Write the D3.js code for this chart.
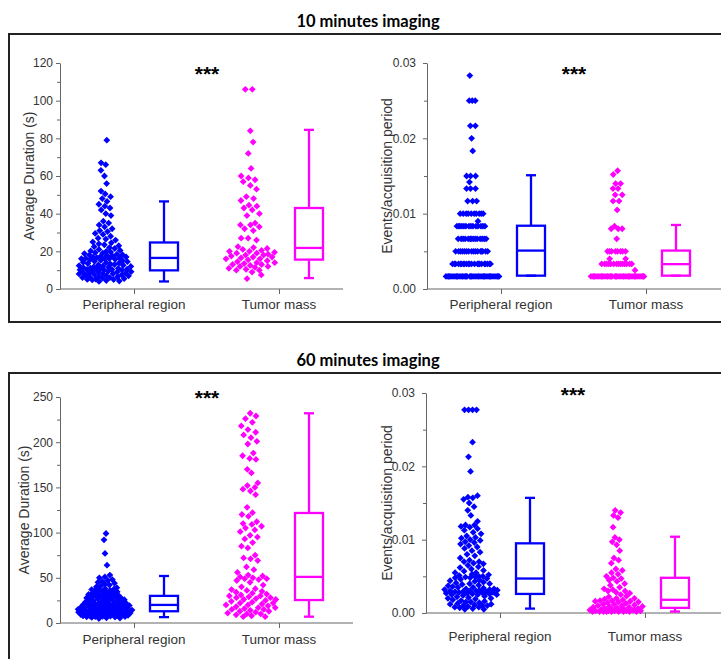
<!DOCTYPE html>
<html>
<head>
<meta charset="utf-8">
<script src="https://cdn.jsdelivr.net/npm/d3@7"></script>
<style>
  body { margin: 0; background: #fff; }
  text { font-family: "Liberation Sans", Arial, sans-serif; }
</style>
</head>
<body>
<div id="content"></div>
<script>
// --- data ---
const categories = ['Peripheral region', 'Tumor mass'];
const sectionTitles = ['10 minutes imaging', '60 minutes imaging'];

const durTicks10 = [0, 20, 40, 60, 80, 100, 120];
const durMinor10 = [10, 30, 50, 70, 90, 110];
const durTicks60 = [0, 50, 100, 150, 200, 250];
const durMinor60 = [25, 75, 125, 175, 225];
const evtTicks = [0, 0.01, 0.02, 0.03];
const evtMinor = [0.005, 0.015, 0.025];

// 10 min, average duration (s)
const dur10Peripheral = [79, 67, 66, 63, 60, 56, 52, 50.5, 49, 48, 46.5, 45, 44, 43, 42, 40, 39, 36, 35, 34, 33, 32, 31, 30.5, 29.5, 29, 28, 27, 26.5, 26,
  25, 24.5, 24, 23.5, 23, 22.5, 22, 21.5, 21, 20.5, 20.2, 20, 19.6, 19.3, 19, 18.8, 18.5, 18.2, 18, 17.8, 17.5, 17.2, 17, 16.9, 16.7, 16.5, 16.3, 16.2, 16.1, 16,
  15.8, 15.5, 15.2, 15, 14.7, 14.5, 14.2, 14, 13.7, 13.5, 13.2, 13, 12.8, 12.6, 12.4, 12.2, 12, 11.8, 11.5, 11.3, 11.1, 11, 10.8, 10.6, 10.5, 10.4, 10.3, 10.2, 10.1, 10,
  9.7, 9.4, 9.2, 9, 8.8, 8.5, 8.3, 8.1, 8, 7.8, 7.5, 7.3, 7.1, 7, 6.8, 6.5, 6.3, 6.1, 6, 5.8, 5.5, 5.3, 5.1, 5, 4.8, 4.5, 4.2, 4, 9.1, 8.2];
const dur10Tumor = [106, 106, 84, 78, 72, 64, 60, 59, 58, 57, 55, 53, 49, 48, 47, 44.5, 44,
  43, 42, 40, 39, 35, 34, 34, 33, 32, 31, 27, 27, 26, 22.5, 22, 21.5, 21,
  20.5, 20, 20, 19.5, 19, 19, 18.5, 18, 18, 17.5, 17, 17, 16.5, 16, 16, 15.5, 15,
  14.5, 14, 14, 13.5, 13, 13, 12.5, 12, 12, 11.5, 11, 10.5, 10, 10, 9, 7.5, 5.5];

// 10 min, events / acquisition period  ([value, count] per level)
const evt10PeripheralCounts = [[0.001667, 35], [0.003333, 22], [0.005, 16], [0.006667, 14], [0.008333, 14], [0.009, 1], [0.01, 10],
  [0.011667, 3], [0.013333, 3], [0.0142, 1], [0.015, 3], [0.018333, 1], [0.02, 1], [0.021667, 2], [0.025, 3], [0.028333, 1]];
const evt10TumorCounts = [[0.001667, 35], [0.0025, 1], [0.003333, 14], [0.004, 2], [0.005, 8], [0.006667, 1], [0.008, 3], [0.008333, 1],
  [0.0105, 1], [0.011667, 2], [0.0125, 2], [0.013333, 2], [0.014, 2], [0.0152, 1], [0.0157, 1]];

// 60 min, average duration (s)
const dur60Peripheral = [99, 92, 77, 64, 53, 51, 50, 48, 47, 46, 45, 44, 43, 42, 41, 40, 39, 38, 37.5, 37, 36.5, 36, 35.5, 35, 34.5, 34, 33.5, 33, 32.5, 32, 31.5, 31, 30.8, 30.5, 30.2,
  30, 29.5, 29, 28.5, 28, 27.7, 27.3, 27, 26.5, 26, 25.7, 25.3, 25, 24.5, 24, 23.7, 23.3, 23, 22.5, 22, 21.7, 21.3, 21, 20.8, 20.5, 20.3, 20, 19.8, 19.5, 19.3, 19.1, 19, 19.2, 19.4, 19.6,
  18.7, 18.4, 18, 17.7, 17.4, 17, 16.7, 16.4, 16, 15.8, 15.5, 15.2, 15, 14.8, 14.5, 14.2, 14, 13.8, 13.6, 13.4, 13.2, 13, 13.1, 13.3, 13.5, 13.7, 13.9, 14.1, 14.3, 14.6, 15.1,
  12.5, 12.3, 12, 11.8, 11.6, 11.3, 11.1, 11, 10.8, 10.6, 10.4, 10.2, 10, 9.8, 9.6, 9.4, 9.2, 9, 8.9, 8.7, 8.5, 8.3, 8.1, 8, 7.8, 7.6, 7.4, 7.2, 7, 6.8, 6.6, 6.2, 5.8, 5.5, 5];
const dur60Tumor = [232, 229, 226, 222, 218, 214, 211, 208, 205, 201, 198, 188, 185, 182, 181, 170, 166, 155, 152, 150, 148, 146, 142, 128, 122,
  120, 118, 112, 110, 109, 107, 105, 103, 101, 97, 95, 93, 89, 85, 83, 75, 72, 71, 69, 62, 59, 56, 53, 52, 51,
  50, 49, 49, 48, 47, 45, 42, 40, 38, 37, 36, 35, 34, 33, 32, 31, 30, 30, 29, 28, 28, 27, 26, 26, 25,
  24, 23, 22, 22, 21, 20, 20, 19, 18, 17, 17, 16, 15, 15, 14, 13, 13, 12, 11, 10, 10, 9, 8, 7, 7];

// 60 min, events / acquisition period
const evt60Peripheral = [0.0277, 0.0277, 0.0277, 0.0277, 0.0233, 0.0213, 0.0193, 0.016, 0.0158, 0.0157, 0.0155, 0.015, 0.0145, 0.014, 0.0133, 0.0125,
  0.012, 0.012, 0.0118, 0.0117, 0.0115, 0.0113, 0.011, 0.0108, 0.0105, 0.0103, 0.0102, 0.01, 0.0099, 0.0097, 0.0096,
  0.0094, 0.0092, 0.009, 0.0088, 0.0085, 0.0083, 0.008, 0.0078, 0.0075, 0.0072, 0.007, 0.007, 0.0068, 0.0067, 0.0065, 0.0063,
  0.0062, 0.006, 0.0058, 0.0057, 0.0055, 0.0055, 0.0053, 0.0052, 0.0051, 0.005, 0.005, 0.0049, 0.0049, 0.0048, 0.0048, 0.0047,
  0.0046, 0.0045, 0.0044, 0.0043, 0.0042, 0.0041, 0.004, 0.004, 0.0039, 0.0038, 0.0037, 0.0036, 0.0035, 0.0035, 0.0034, 0.0033,
  0.0033, 0.0032, 0.0032, 0.0031, 0.0031, 0.003, 0.003, 0.003, 0.0029, 0.0029, 0.0029, 0.0028, 0.0028, 0.0028, 0.0027, 0.0027,
  0.0026, 0.0026, 0.0025, 0.0025, 0.0025, 0.0024, 0.0023, 0.0022, 0.0021, 0.002, 0.002, 0.0019, 0.0018, 0.0017, 0.0016, 0.0015,
  0.0015, 0.0014, 0.0013, 0.0012, 0.0012, 0.0011, 0.001, 0.001, 0.001, 0.0009, 0.0008, 0.0008, 0.0007, 0.0006, 0.0005, 0.0005];
const evt60Tumor = [0.014, 0.0137, 0.0133, 0.013, 0.0117, 0.0103, 0.01, 0.0097, 0.0093, 0.0085, 0.0075, 0.0072, 0.0068, 0.006, 0.0058, 0.0055, 0.0053, 0.005, 0.0048,
  0.0047, 0.0045, 0.0043, 0.004, 0.0038, 0.0035, 0.0033, 0.0032, 0.003, 0.003, 0.0028, 0.0027, 0.0025, 0.0023, 0.0022, 0.002, 0.002, 0.0019, 0.0018, 0.0017,
  0.0017, 0.0016, 0.0016, 0.0015, 0.0015, 0.0014, 0.0013, 0.0012, 0.0012, 0.0011, 0.001, 0.001, 0.0009, 0.0009, 0.0008, 0.0008, 0.0007, 0.0006, 0.0006, 0.0005,
  0.0005, 0.0005, 0.0004, 0.0004, 0.0004, 0.0004, 0.0003, 0.0003, 0.0003, 0.0003, 0.0003, 0.0002, 0.0002, 0.0002, 0.0002, 0.0002, 0.0002, 0.0002, 0.0002, 0.0002];

// box stats: [lower whisker, Q1, median, Q3, upper whisker]
const dur10PeripheralBox = [4, 9.9, 16.5, 24.7, 46.5];
const dur10TumorBox = [5.8, 15.6, 21.8, 43, 84.5];
const evt10PeripheralBox = [0.00177, 0.00177, 0.0051, 0.0084, 0.0151];
const evt10TumorBox = [0.00177, 0.00177, 0.0033, 0.0051, 0.0085];
const dur60PeripheralBox = [6.5, 13, 20, 30, 52];
const dur60TumorBox = [7, 25.4, 51, 121.7, 232];
const evt60PeripheralBox = [0.0006, 0.0026, 0.0047, 0.0095, 0.0157];
const evt60TumorBox = [0.0002, 0.0007, 0.0018, 0.0048, 0.0104];

const colors = ['#0000ff', '#ff00ff'];

// --- layout ---
const W = 721, H = 659;
const svg = d3.select('#content').append('svg').attr('width', W).attr('height', H);
svg.append('rect').attr('width', W).attr('height', H).attr('fill', '#fff');

const expand = (t) => t.flatMap(([v, n]) => d3.range(n).map(() => v));

const fmtInt = d3.format('d'), fmt2 = d3.format('.2f');

const panels = [
  { x0: 60, y0: 289, yTop: 63, xEnd: 343, domain: [0, 120], ticks: durTicks10, minor: durMinor10, fmt: fmtInt, pad: 3,
    label: 'Average Duration (s)', labelX: 29, starY: 70, catY: 309, series: [dur10Peripheral, dur10Tumor], boxes: [dur10PeripheralBox, dur10TumorBox] },
  { x0: 427, y0: 289, yTop: 63, xEnd: 721, domain: [0, 0.03], ticks: evtTicks, minor: evtMinor, fmt: fmt2, pad: 7,
    label: 'Events/acquisition period', labelX: 387, starY: 70, catY: 309, series: [expand(evt10PeripheralCounts), expand(evt10TumorCounts)], boxes: [evt10PeripheralBox, evt10TumorBox] },
  { x0: 60, y0: 623, yTop: 397, xEnd: 353, domain: [0, 250], ticks: durTicks60, minor: durMinor60, fmt: fmtInt, pad: 3,
    label: 'Average Duration (s)', labelX: 24, starY: 394, catY: 644, series: [dur60Peripheral, dur60Tumor], boxes: [dur60PeripheralBox, dur60TumorBox] },
  { x0: 426, y0: 613, yTop: 393, xEnd: 721, domain: [0, 0.03], ticks: evtTicks, minor: evtMinor, fmt: fmt2, pad: 7,
    label: 'Events/acquisition period', labelX: 387, starY: 391, catY: 641, series: [evt60Peripheral, evt60Tumor], boxes: [evt60PeripheralBox, evt60TumorBox] }
];

// section frames + titles
[{ top: 34, bottom: 322, titleY: 27 }, { top: 373, bottom: 700, titleY: 366 }].forEach((s, i) => {
  svg.append('path')
    .attr('d', `M${W + 5},${s.top}H9V${s.bottom}H${W + 5}`)
    .attr('fill', 'none').attr('stroke', '#222').attr('stroke-width', 2);
  svg.append('text').attr('x', 368).attr('y', s.titleY)
    .attr('text-anchor', 'middle')
    .style('font-family', 'Lato, "Open Sans", sans-serif')
    .style('font-weight', 'bold').style('font-size', '16.5px')
    .text(sectionTitles[i]);
});

// density-scaled jitter: spread width follows local point density,
// positions avoid overlaps where possible (deterministic, layout only)
function spread(vals, y, half) {
  const r = 5, bw = 5;
  const pts = vals.map(v => ({ v, py: y(v) })).sort((a, b) => b.py - a.py);
  pts.forEach(p => {
    p.k = d3.sum(pts, q => Math.exp(-((q.py - p.py) ** 2) / (2 * bw * bw)));
  });
  const kmax = d3.max(pts, p => p.k);
  const placed = [];
  pts.forEach((p, i) => {
    const h = Math.max(2, half * Math.pow(p.k / kmax, 0.7));
    const target = h * (2 * ((i * 0.618034 + 0.31) % 1) - 1);
    let best = 0, bestS = -Infinity;
    for (let dx = -h; dx <= h + 0.01; dx += 1) {
      let m = Infinity;
      for (const q of placed) {
        if (Math.abs(q.py - p.py) >= r) continue;
        m = Math.min(m, Math.hypot(q.dx - dx, q.py - p.py));
      }
      const s = Math.min(m, r) - 0.05 * Math.abs(dx - target);
      if (s > bestS) { bestS = s; best = dx; }
    }
    p.dx = best;
    placed.push(p);
  });
  return pts;
}

const diamond = 'M0,-3.4L3.4,0L0,3.4L-3.4,0Z';

panels.forEach((p) => {
  const y = d3.scaleLinear().domain(p.domain).range([p.y0, p.yTop]);
  const x = d3.scalePoint().domain(categories).range([p.x0 + 74, p.x0 + 219]);
  const g = svg.append('g');

  // y axis (major + minor)
  const yAxis = g.append('g').attr('transform', `translate(${p.x0},0)`)
    .call(d3.axisLeft(y).tickValues(p.ticks).tickFormat(p.fmt).tickSize(4).tickSizeOuter(0).tickPadding(p.pad));
  g.append('g').attr('transform', `translate(${p.x0},0)`)
    .call(d3.axisLeft(y).tickValues(p.minor).tickFormat('').tickSize(3))
    .call(a => a.select('.domain').remove());
  yAxis.selectAll('text').style('font-size', '12px').attr('fill', '#333');

  // x axis
  g.append('g').attr('transform', `translate(0,${p.y0})`)
    .call(d3.axisBottom(x).tickSize(5).tickSizeOuter(0).tickFormat(''))
    .call(a => a.select('.domain').remove());
  g.append('line').attr('x1', p.x0).attr('x2', p.xEnd).attr('y1', p.y0).attr('y2', p.y0);
  g.selectAll('.domain, .tick line, line').attr('stroke', '#666').attr('stroke-width', 1);

  g.selectAll('.cat').data(categories).join('text')
    .attr('x', d => x(d)).attr('y', p.catY)
    .attr('text-anchor', 'middle').style('font-size', '13.5px').attr('fill', '#333')
    .text(d => d);

  g.append('text')
    .attr('transform', `translate(${p.labelX},${(p.y0 + p.yTop) / 2}) rotate(-90)`)
    .attr('text-anchor', 'middle').attr('dy', '0.35em')
    .style('font-size', '14px').attr('fill', '#333')
    .text(p.label);

  g.append('text').attr('x', p.x0 + 147).attr('y', p.starY + 11)
    .attr('text-anchor', 'middle').style('font-size', '21px').style('font-weight', 'bold')
    .text('***');

  categories.forEach((c, ci) => {
    const col = colors[ci];
    const cx = x(c) - 29;
    const pts = spread(p.series[ci], y, 27);
    g.append('g').selectAll('path').data(pts).join('path')
      .attr('d', diamond)
      .attr('transform', d => `translate(${cx + d.dx},${d.py})`)
      .attr('fill', col);

    const [lo, q1, med, q3, hi] = p.boxes[ci];
    const bx = x(c) + 16, bw = 28, mid = bx + bw / 2;
    const bg = g.append('g').attr('stroke', col).attr('stroke-width', 2.3).attr('fill', 'none');
    bg.append('line').attr('x1', mid).attr('x2', mid).attr('y1', y(q3)).attr('y2', y(hi));
    bg.append('line').attr('x1', mid).attr('x2', mid).attr('y1', y(q1)).attr('y2', y(lo));
    bg.append('line').attr('x1', mid - 5).attr('x2', mid + 5).attr('y1', y(hi)).attr('y2', y(hi));
    bg.append('line').attr('x1', mid - 5).attr('x2', mid + 5).attr('y1', y(lo)).attr('y2', y(lo));
    bg.append('rect').attr('x', bx).attr('y', y(q3)).attr('width', bw).attr('height', y(q1) - y(q3));
    bg.append('line').attr('x1', bx).attr('x2', bx + bw).attr('y1', y(med)).attr('y2', y(med));
  });
});
</script>
</body>
</html>
